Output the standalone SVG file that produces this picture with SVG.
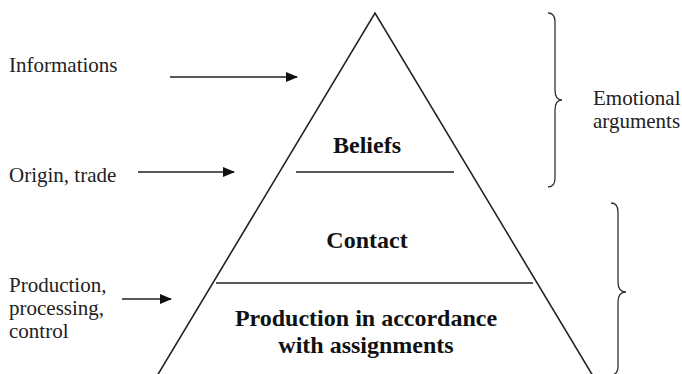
<svg xmlns="http://www.w3.org/2000/svg" width="682" height="374" viewBox="0 0 682 374">
<style>
.t{font-family:'Liberation Serif','Times New Roman',Times,serif;font-size:21px;fill:#222}
.b{font-family:'Liberation Serif','Times New Roman',Times,serif;font-size:24px;font-weight:bold;fill:#111;text-anchor:middle}
.ln{stroke:#222;stroke-width:1.6;fill:none}
.br{stroke:#333;stroke-width:1.3;fill:none}
.ar{stroke:#222;stroke-width:1.6;fill:none;marker-end:url(#ah)}
</style>
<defs>
<marker id="ah" markerWidth="12" markerHeight="10" refX="11" refY="5" orient="auto" markerUnits="userSpaceOnUse">
<path d="M0,0 L12,5 L0,10 Z" fill="#111"/>
</marker>
</defs>
<rect width="682" height="374" fill="#fff"/>
<g id="pyramid">
<path class="ln" d="M157,376 L375,13 L593,376"/>
<line class="ln" x1="296" y1="172" x2="454" y2="172"/>
<line class="ln" x1="216" y1="283" x2="533" y2="283"/>
</g>
<g id="beliefs"><text class="b" x="367" y="153">Beliefs</text></g>
<g id="contact"><text class="b" x="367" y="248">Contact</text></g>
<g id="production"><text class="b" x="366" y="326">Production in accordance</text><text class="b" x="366" y="353">with assignments</text></g>
<g id="informations"><text class="t" x="9" y="72">Informations</text></g>
<g id="origin"><text class="t" x="9" y="182">Origin, trade</text></g>
<g id="prodproc"><text class="t" x="9" y="292">Production,</text><text class="t" x="9" y="315">processing,</text><text class="t" x="9" y="338">control</text></g>
<g id="emotional"><text class="t" x="593" y="105">Emotional</text><text class="t" x="593" y="128">arguments</text></g>
<g id="braces">
<path class="br" d="M548,13 Q555,13 555,22 L555,90 Q555,100 562,100 Q555,100 555,110 L555,178 Q555,187 548,187"/>
<path class="br" d="M611,203 Q618,203 618,212 L618,282 Q618,292 626,292 Q618,292 618,302 L618,366 Q618,375 611,375"/>
</g>
<g id="connectors">
<line class="ar" x1="170" y1="77" x2="297" y2="77"/>
<line class="ar" x1="138" y1="172" x2="234" y2="172"/>
<line class="ar" x1="122" y1="299" x2="171" y2="299"/>
</g>
</svg>
